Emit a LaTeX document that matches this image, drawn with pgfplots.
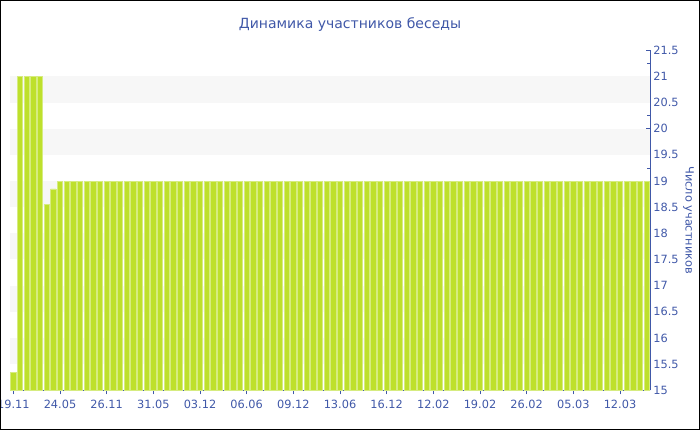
\documentclass[border=0pt]{standalone}
\usepackage{pgfplots}
\pgfplotsset{compat=1.18}
\usepackage{fontspec}
\setmainfont{DejaVu Sans}
\definecolor{txt}{HTML}{4058A8}
\definecolor{barc}{HTML}{BEE02C}
\definecolor{baredge}{HTML}{D6EC80}
\definecolor{band}{HTML}{F7F7F7}
\begin{document}
\begin{tikzpicture}[x=0.75pt,y=0.75pt]
\useasboundingbox (0,0) rectangle (700,430);
\begin{axis}[
  at={(15,76)}, anchor=south west,
  scale only axis, width=480pt, height=255pt,
  xmin=-0.5, xmax=95.5, ymin=15, ymax=21.5,
  axis x line*=bottom, axis y line*=right,
  axis line style={txt, line width=0.75pt},
  ybar, bar width=0.78,
  xtick={0,7,...,91},
  xticklabels={19.11,24.05,26.11,31.05,03.12,06.06,09.12,13.06,16.12,12.02,19.02,26.02,05.03,12.03},
  xtick align=outside, ytick align=inside,
  major tick length=3pt, minor tick length=2pt,
  ytick={15,15.5,...,21.5}, minor y tick num=1,
  yticklabel pos=right,
  tick style={txt, line width=0.6pt},
  ticklabel style={font=\fontsize{8.5}{10}\selectfont, text=txt},
  /pgf/number format/assume math mode=true,
  yticklabel style={/pgf/number format/fixed, /pgf/number format/precision=1, xshift=-1pt},
  xticklabel style={yshift=-1pt},
  extra y ticks={15.75,16.75,17.75,18.75,19.75,20.75},
  extra y tick labels={},
  extra y tick style={grid=major, major grid style={band, line width=19.615pt}, tick style={draw=none}},
  title={Динамика участников беседы},
  title style={font=\fontsize{10.5}{12}\selectfont, text=txt, at={(axis description cs:0.5,1)}, xshift=15pt, yshift=13.5pt, anchor=center},
  ylabel={Число участников},
  every axis y label/.style={at={(axis description cs:1,0.5)}, xshift=29pt, rotate=-90, anchor=center, font=\fontsize{8.5}{10}\selectfont, text=txt},
]
\addplot[fill=barc, draw=baredge, line width=0.5pt] coordinates {
(0,15.34) (1,21) (2,21) (3,21) (4,21) (5,18.55) (6,18.85) (7,19) (8,19) (9,19)
(10,19) (11,19) (12,19) (13,19) (14,19) (15,19) (16,19) (17,19) (18,19) (19,19)
(20,19) (21,19) (22,19) (23,19) (24,19) (25,19) (26,19) (27,19) (28,19) (29,19)
(30,19) (31,19) (32,19) (33,19) (34,19) (35,19) (36,19) (37,19) (38,19) (39,19)
(40,19) (41,19) (42,19) (43,19) (44,19) (45,19) (46,19) (47,19) (48,19) (49,19)
(50,19) (51,19) (52,19) (53,19) (54,19) (55,19) (56,19) (57,19) (58,19) (59,19)
(60,19) (61,19) (62,19) (63,19) (64,19) (65,19) (66,19) (67,19) (68,19) (69,19)
(70,19) (71,19) (72,19) (73,19) (74,19) (75,19) (76,19) (77,19) (78,19) (79,19)
(80,19) (81,19) (82,19) (83,19) (84,19) (85,19) (86,19) (87,19) (88,19) (89,19)
(90,19) (91,19) (92,19) (93,19) (94,19) (95,19)
};
\end{axis}
\draw[black, line width=0.9pt] (0.6,0.6) rectangle (699.4,429.4);
\end{tikzpicture}
\end{document}
